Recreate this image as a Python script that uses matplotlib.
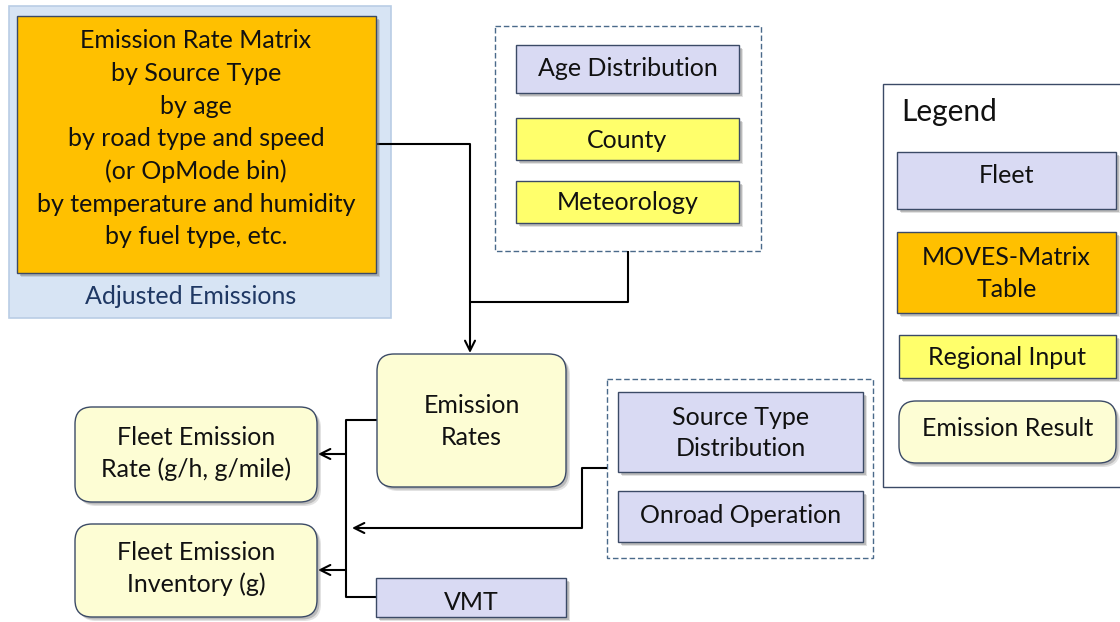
import matplotlib.pyplot as plt
from matplotlib.patches import FancyBboxPatch, Rectangle

plt.rcParams['font.family'] = ['Lato', 'DejaVu Sans']

# box texts
matrix_lines = ["Emission Rate Matrix", "by Source Type", "by age", "by road type and speed",
                "(or OpMode bin)", "by temperature and humidity", "by fuel type, etc."]
panel_label = "Adjusted Emissions"
regional_boxes = ["Age Distribution", "County", "Meteorology"]
operation_boxes = ["Source Type\nDistribution", "Onroad Operation"]
result_boxes = ["Fleet Emission\nRate (g/h, g/mile)", "Fleet Emission\nInventory (g)"]
center_box = "Emission\nRates"
vmt_box = "VMT"
legend_title = "Legend"
legend_items = ["Fleet", "MOVES-Matrix\nTable", "Regional Input", "Emission Result"]

FLEET = '#d9daf3'
MATRIX = '#ffc000'
REGIONAL = '#ffff6b'
RESULT = '#fdfdd4'
EDGE = '#3b4a66'
FS = 18

fig = plt.figure(figsize=(11.2, 6.22), dpi=100)
ax = fig.add_axes([0, 0, 1, 1])
ax.set_xlim(0, 1120)
ax.set_ylim(622, 0)
ax.axis('off')


def box(x0, y0, x1, y1, color, text=None, rounded=False, dy=0):
    style = "round,pad=0,rounding_size=17" if rounded else "square,pad=0"
    # soft drop shadow
    for off, a in [(4, 0.18), (2.5, 0.3)]:
        ax.add_patch(FancyBboxPatch((x0 + off, y0 + off), x1 - x0, y1 - y0, boxstyle=style,
                                    fc='#606060', ec='none', alpha=a, zorder=2))
    ax.add_patch(FancyBboxPatch((x0, y0), x1 - x0, y1 - y0, boxstyle=style,
                                fc=color, ec=EDGE, lw=1.0, zorder=3))
    if text:
        ax.text((x0 + x1) / 2, (y0 + y1) / 2 + 1 + dy, text, ha='center', va='center', fontsize=FS,
                color='#111111', linespacing=1.45, zorder=4)


def line(xs, ys):
    ax.plot(xs, ys, color='black', lw=1.5, zorder=1, solid_capstyle='butt')


def arrow(x0, y0, x1, y1):
    ax.annotate('', xy=(x1, y1), xytext=(x0, y0), zorder=1,
                arrowprops=dict(arrowstyle='->', color='black', lw=1.5, mutation_scale=18,
                                shrinkA=0, shrinkB=0))


# adjusted emissions panel
ax.add_patch(Rectangle((9, 6), 382, 312, fc='#d7e4f4', ec='#b9cde5', lw=1.2, zorder=1))
box(17, 16, 376, 273, MATRIX)
for i, t in enumerate(matrix_lines):
    ax.text(196, 41 + i * 32.6, t, ha='center', va='center', fontsize=FS, color='#111111', zorder=4)
ax.text(191, 296, panel_label, ha='center', va='center', fontsize=FS, color='#1f3864', zorder=4)

# regional inputs
ax.add_patch(Rectangle((495, 26), 266, 225, fc='none', ec='#4a6a8a', lw=1.0, ls=(0, (4, 2)), zorder=1))
box(516, 45, 739, 93, FLEET, regional_boxes[0], dy=-2)
box(516, 118, 739, 160, REGIONAL, regional_boxes[1])
box(516, 181, 739, 223, REGIONAL, regional_boxes[2])

# fleet inputs
ax.add_patch(Rectangle((607, 379), 266, 179, fc='none', ec='#4a6a8a', lw=1.0, ls=(0, (4, 2)), zorder=1))
box(618, 392, 863, 472, FLEET, operation_boxes[0])
box(618, 491, 863, 542, FLEET, operation_boxes[1], dy=-2)

# results
box(377, 354, 566, 487, RESULT, center_box, rounded=True)
box(75, 407, 317, 502, RESULT, result_boxes[0], rounded=True, dy=-2)
box(75, 524, 317, 617, RESULT, result_boxes[1], rounded=True, dy=-3)
box(376, 578, 566, 617, FLEET, vmt_box, dy=4)

# connectors
line([376, 470], [144, 144])
line([628, 628, 470], [251, 302, 302])
arrow(470, 144, 470, 353)
line([377, 346, 346, 376], [420, 420, 597, 597])
arrow(346, 454, 318, 454)
arrow(346, 570, 318, 570)
line([607, 582, 582], [468, 468, 528])
arrow(582, 528, 352, 528)

# legend
ax.add_patch(Rectangle((883, 84), 240, 403, fc='white', ec='#3b4a66', lw=1.0, zorder=1))
ax.text(901, 112, legend_title, ha='left', va='center', fontsize=21.5, color='#111111', zorder=4)
box(897, 152, 1116, 209, FLEET, legend_items[0], dy=-6)
box(897, 232, 1116, 313, MATRIX, legend_items[1])
box(899, 335, 1116, 378, REGIONAL, legend_items[2])
box(899, 401, 1116, 463, RESULT, legend_items[3], rounded=True, dy=-5)

fig.savefig('out.png', dpi=100)
